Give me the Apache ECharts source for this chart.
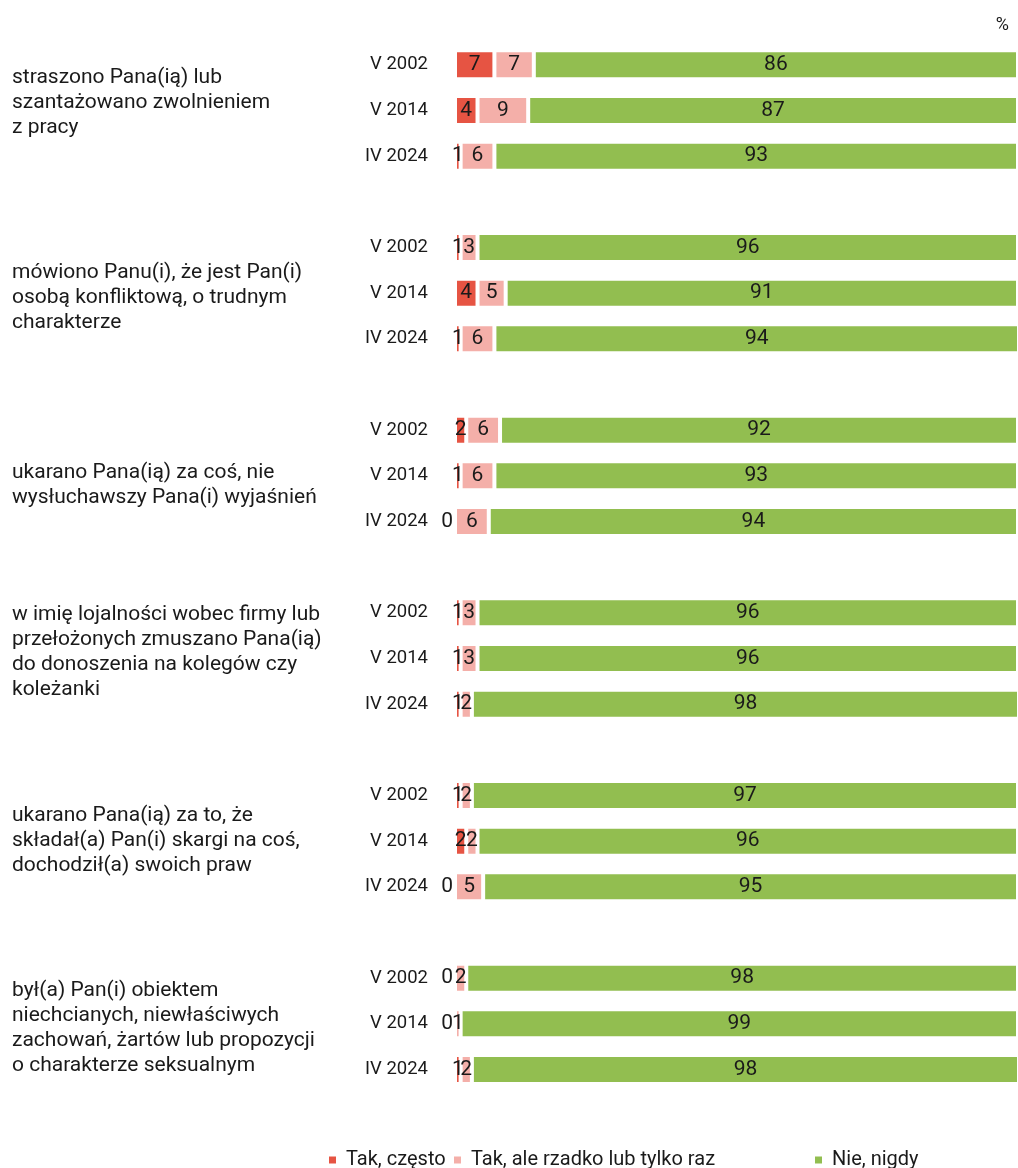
<!DOCTYPE html>
<html>
<head>
<meta charset="utf-8">
<script src="https://cdn.jsdelivr.net/npm/echarts@6/dist/echarts.min.js"></script>
<style>
html,body{margin:0;padding:0;background:#fff;}
#chart{width:1018px;height:1168px;}
</style>
</head>
<body>
<div id="chart"></div>
<script>
// ---- data ----
const questions = [
  "straszono Pana(ią) lub\nszantażowano zwolnieniem\nz pracy",
  "mówiono Panu(i), że jest Pan(i)\nosobą konfliktową, o trudnym\ncharakterze",
  "ukarano Pana(ią) za coś, nie\nwysłuchawszy Pana(i) wyjaśnień",
  "w imię lojalności wobec firmy lub\nprzełożonych zmuszano Pana(ią)\ndo donoszenia na kolegów czy\nkoleżanki",
  "ukarano Pana(ią) za to, że\nskładał(a) Pan(i) skargi na coś,\ndochodził(a) swoich praw",
  "był(a) Pan(i) obiektem\nniechcianych, niewłaściwych\nzachowań, żartów lub propozycji\no charakterze seksualnym"
];
const waves = ["V 2002", "V 2014", "IV 2024"];
const seriesNames = ["Tak, często", "Tak, ale rzadko lub tylko raz", "Nie, nigdy"];
const takCzesto = [7,4,1, 1,4,1, 2,1,0, 1,1,1, 1,2,0, 0,0,1];
const takRzadko = [7,9,6, 3,5,6, 6,6,6, 3,3,2, 2,2,5, 2,1,2];
const nieNigdy  = [86,87,93, 96,91,94, 92,93,94, 96,96,98, 97,96,95, 98,99,98];

// ---- build category slots (3 waves + 1 spacer per question) ----
const cats = [];
const slotIdx = [];
questions.forEach((q, qi) => {
  waves.forEach((w, wi) => { slotIdx.push(cats.length); cats.push(w); });
  cats.push("");
});
function toSlots(arr) {
  const out = cats.map(() => null);
  arr.forEach((v, i) => {
    const item = { value: v };
    if (v === 0) item.label = { position: 'left', distance: 1 };
    out[slotIdx[i]] = item;
  });
  return out;
}
const colors = ["#E65443", "#F4AFA9", "#92BE50"];
const FONT = "Roboto, 'Noto Sans', sans-serif";

const chart = echarts.init(document.getElementById('chart'), null, { renderer: 'canvas' });

// question text positions (top of first line)
const qTops = [65, 260, 460, 602, 803, 978];

const option = {
  animation: false,
  textStyle: { fontFamily: FONT },
  grid: { left: 455, right: 0, top: 42, height: 1096, containLabel: false },
  xAxis: { type: 'value', min: 0, max: 100, show: false },
  yAxis: {
    type: 'category', data: cats, inverse: true,
    axisLine: { show: false }, axisTick: { show: false }, splitLine: { show: false },
    axisLabel: { color: '#1a1a1a', fontSize: 18.5, margin: 27, fontFamily: FONT }
  },
  legend: seriesNames.map((n, i) => ({
    data: [n], top: 1145, left: [322, 447, 808][i],
    itemWidth: 9, itemHeight: 9, icon: 'rect',
    textStyle: { fontSize: 20, color: '#1a1a1a', fontFamily: FONT, padding: [0, 0, 0, 4] }
  })),
  graphic: [
    { type: 'text', right: 9, top: 16, style: { text: '%', fontSize: 18, fill: '#1a1a1a', fontFamily: FONT } }
  ].concat(questions.map((q, i) => ({
    type: 'text', left: 12, top: qTops[i],
    style: { text: q, fontSize: 21, lineHeight: 25, fill: '#1a1a1a', fontFamily: FONT }
  }))),
  series: [takCzesto, takRzadko, nieNigdy].map((arr, i) => ({
    name: seriesNames[i], type: 'bar', stack: 'total',
    barWidth: 29,
    itemStyle: { color: colors[i], borderColor: '#ffffff', borderWidth: 2 },
    label: { show: true, position: 'inside', color: '#1a1a1a', fontSize: 21, fontFamily: FONT },
    data: toSlots(arr)
  }))
};
chart.setOption(option);
</script>
</body>
</html>
